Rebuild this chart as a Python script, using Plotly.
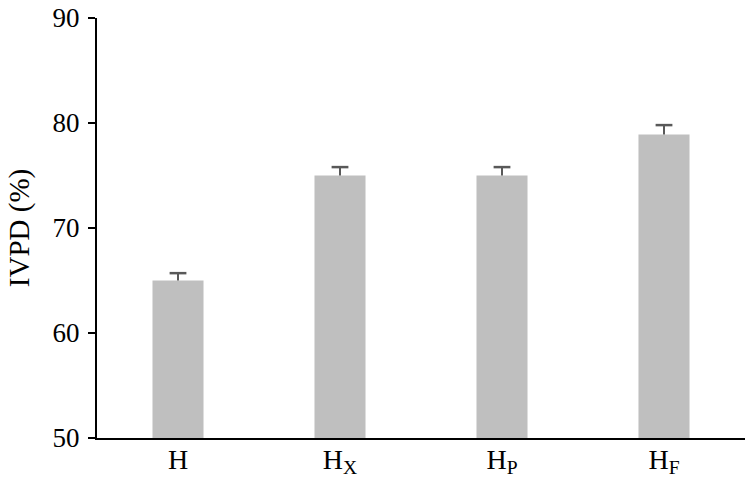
import plotly.graph_objects as go

# samples and in vitro protein digestibility (%)
samples = ["H", "H<sub>X</sub>", "H<sub>P</sub>", "H<sub>F</sub>"]
ivpd = [65.0, 75.0, 75.0, 78.9]
ivpd_err = [0.7, 0.8, 0.8, 0.9]
y_ticks = [50, 60, 70, 80, 90]

serif = "Times New Roman, Liberation Serif, serif"

fig = go.Figure(go.Bar(
    x=samples, y=ivpd,
    marker=dict(color="#bfbfbf", line=dict(width=0)),
    width=0.315,
))

# upper error bars only: stem from bar top to top + err, with a cap marker
err_x, err_y = [], []
for s, v, e in zip(samples, ivpd, ivpd_err):
    err_x += [s, s, None]
    err_y += [v, v + e, None]
fig.add_trace(go.Scatter(
    x=err_x, y=err_y, mode="lines",
    line=dict(color="#595959", width=2), hoverinfo="skip",
))
fig.add_trace(go.Scatter(
    x=samples, y=[v + e for v, e in zip(ivpd, ivpd_err)], mode="markers",
    marker=dict(symbol="line-ew", size=12, line=dict(color="#595959", width=2.5)),
    hoverinfo="skip",
))

fig.update_layout(
    width=753, height=479,
    margin=dict(l=97, r=8, t=18, b=41),
    plot_bgcolor="white", paper_bgcolor="white",
    font=dict(family=serif, size=24, color="black"),
    showlegend=False,
)
fig.update_xaxes(
    range=[-0.5, 3.5], showline=True, linecolor="black", linewidth=2,
    ticks="", showgrid=False, automargin=False, ticklabelstandoff=-5,
    tickfont=dict(family=serif, size=28, color="black"),
)
fig.update_yaxes(
    range=[50, 90], tickvals=y_ticks, showline=True, linecolor="black",
    linewidth=2, ticks="outside", ticklen=7, tickwidth=2, tickcolor="black",
    showgrid=False, zeroline=False, automargin=False, ticklabelstandoff=3,
    tickfont=dict(family=serif, size=27, color="black"),
    title=dict(text="IVPD (%)", standoff=14),
)

# page body margin off so the figure sits at the window's corner
fig.write_html("out.html", config={"displayModeBar": False},
               post_script="document.body.style.margin='0';")
